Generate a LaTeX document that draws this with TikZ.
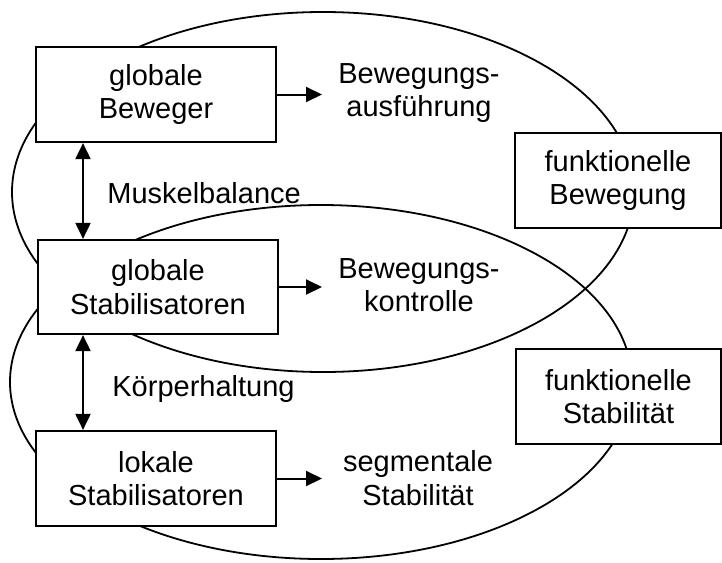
\documentclass[tikz,border=0pt]{standalone}
\usepackage{fontspec}
\setmainfont{Liberation Sans}
\usetikzlibrary{arrows.meta}
\begin{document}
\begin{tikzpicture}[x=0.5pt,y=-0.5pt,
  every node/.style={font=\fontsize{14.5pt}{16.8pt}\selectfont},
  box/.style={draw, line width=1.1pt, fill=white, align=center, inner sep=0pt},
  lbl/.style={align=center, inner sep=0pt},
  ring/.style={line width=0.9pt},
  arr/.style={line width=1pt, -{Triangle[length=8pt,width=7.5pt]}},
  dblarr/.style={line width=1pt, {Triangle[length=8pt,width=7.5pt]}-{Triangle[length=8pt,width=7.5pt]}}]
\useasboundingbox (0,0) rectangle (722,562);

% the two overlapping regions
\draw[ring] (323,192) ellipse [x radius=155.5pt, y radius=90pt];
\draw[ring] (321,382) ellipse [x radius=155.5pt, y radius=88.5pt];

% muscle groups
\node[box, minimum width=120pt, minimum height=47.5pt] (b1) at (156,94.5) {globale\\Beweger};
\node[box, minimum width=120pt, minimum height=47pt] (b2) at (158,287) {globale\\Stabilisatoren};
\node[box, minimum width=120pt, minimum height=47.5pt] (b3) at (156,478.5) {lokale\\Stabilisatoren};

% functional outcomes
\node[box, minimum width=103pt, minimum height=47.5pt] (fb) at (618,180.5) {funktionelle\\Bewegung};
\node[box, minimum width=102.5pt, minimum height=47.5pt] (fs) at (618.5,396.5) {funktionelle\\Stabilität};

% effects
\node[lbl] (e1) at (419,93) {Bewegungs-\\ausführung};
\node[lbl] (e2) at (419,285) {Bewegungs-\\kontrolle};
\node[lbl] (e3) at (418,478) {segmentale\\Stabilität};

% links between groups
\node[lbl, anchor=base west] (mb) at (107,203) {Muskelbalance};
\node[lbl, anchor=base west] (kh) at (112,396) {Körperhaltung};

\coordinate (vx) at (83,0);
\coordinate (hx) at (322,0);
\draw[dblarr] (vx |- b1.south) -- (vx |- b2.north);
\draw[dblarr] (vx |- b2.south) -- (vx |- b3.north);

\draw[arr] (b1.east) -- (hx |- b1.east);
\draw[arr] (b2.east) -- (hx |- b2.east);
\draw[arr] (b3.east) -- (hx |- b3.east);
\end{tikzpicture}
\end{document}
